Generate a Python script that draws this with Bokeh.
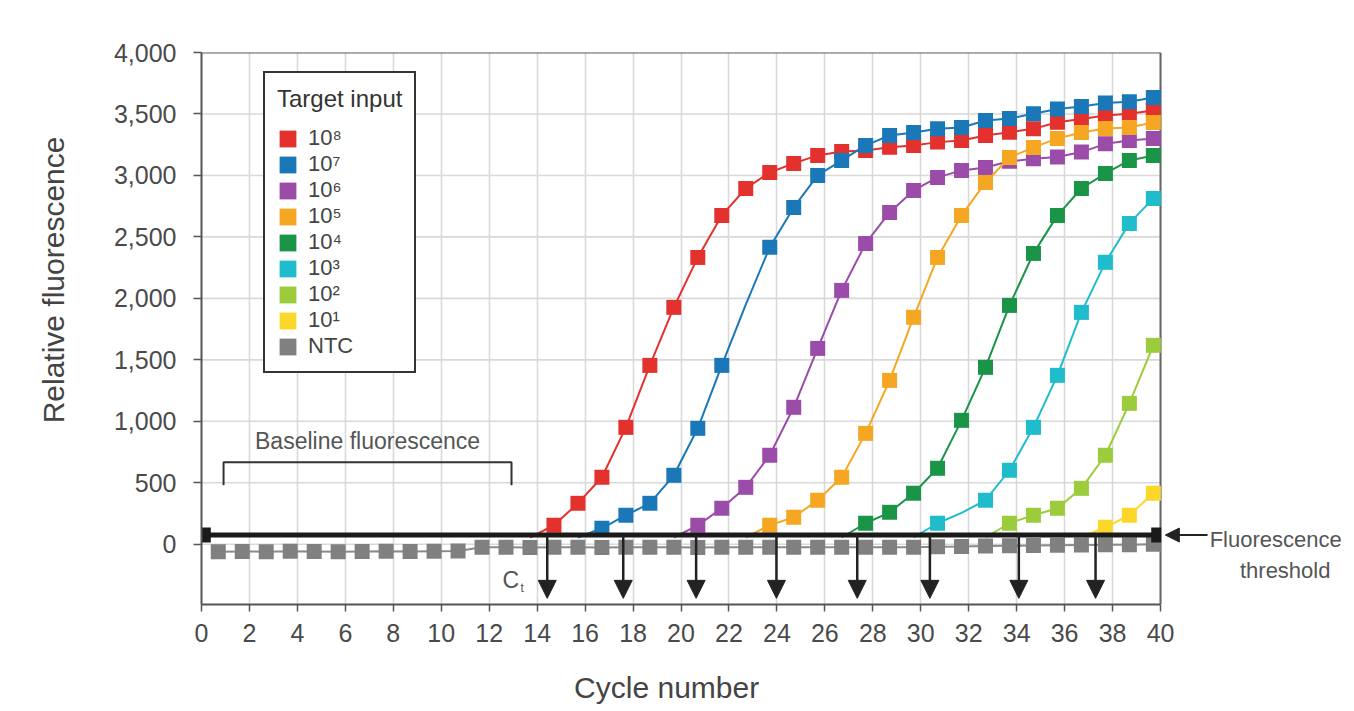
import numpy as np
from bokeh.plotting import figure
from bokeh.models import (Range1d, FixedTicker, NumeralTickFormatter, Legend, LegendItem,
                          Label, Arrow, NormalHead, ColumnDataSource, LinearAxis)
from bokeh.embed import file_html
from bokeh.resources import INLINE

FONT = "Liberation Sans"

# ---------------- data ----------------
legend_labels = ["10⁸", "10⁷", "10⁶", "10⁵", "10⁴", "10³", "10²", "10¹"]
colors = ["#e3312d", "#1b78b8", "#9a4ca8", "#f5a623", "#1a9447", "#1fbccc", "#9ccb3b", "#fcd72a"]
# cycle of the first (baseline, hidden under threshold) point of each curve
start_cycles = [14, 16, 20, 23, 27, 30, 33, 37]

red = [55, 154, 333, 545, 951, 1455, 1927, 2333, 2675, 2894, 3024, 3098, 3163, 3195, 3203,
       3230, 3244, 3271, 3285, 3325, 3352, 3379, 3433, 3460, 3488, 3501, 3528]
blue = [55, 130, 236, 333, 561, 943, 1455, 1950, 2415, 2740, 3000, 3122, 3244, 3325, 3350,
        3379, 3390, 3447, 3463, 3501, 3540, 3560, 3590, 3600, 3634]
purple = [55, 154, 293, 463, 724, 1114, 1593, 2065, 2447, 2699, 2878, 2984, 3041, 3065, 3115,
          3135, 3150, 3190, 3257, 3285, 3300]
orange = [55, 154, 220, 358, 545, 902, 1333, 1846, 2333, 2675, 2943, 3146, 3228, 3301, 3350,
          3382, 3390, 3431]
green = [55, 171, 260, 415, 618, 1008, 1439, 1943, 2366, 2675, 2894, 3016, 3122, 3163]
cyan = [55, 171, 255, 358, 602, 951, 1374, 1886, 2293, 2610, 2813]
lightgreen = [55, 171, 236, 293, 455, 724, 1146, 1618]
yellow = [55, 138, 236, 415]
series_values = [red, blue, purple, orange, green, cyan, lightgreen, yellow]
# cycles whose point carries no marker in the original figure
unmarked_cycles = {1: [23], 5: [32]}

ntc_values = [-60, -58, -60, -57, -58, -60, -58, -57, -58, -56, -55, -25, -24, -26, -25,
              -25, -26, -25, -24, -25, -26, -25, -24, -25, -25, -24, -25, -25, -24, -25,
              -20, -18, -15, -12, -10, -8, -6, -5, -3, 0]
ntc_cycles = list(range(1, 41))

threshold = 75
ct_cycles = [14.42, 17.59, 20.63, 23.98, 27.35, 30.38, 34.09, 37.29]
baseline_window = (0.92, 12.93)

x_ticks = list(range(0, 41, 2))
y_ticks = list(range(0, 4001, 500))
X_MAX, Y_MIN, Y_MAX = 40, -490, 4000

X_SHIFT = -0.3  # where each cycle's reading is drawn
X_TITLE_AT, Y_TITLE_AT = 19.4, 2150  # centres of the axis titles (as in the original)

# ---------------- figure ----------------
# the x range runs past 40 so the threshold note at the right stays inside the frame
p = figure(width=1354, height=711, x_range=Range1d(0, 48.09), y_range=Range1d(Y_MIN, Y_MAX),
           output_backend="svg", toolbar_location=None,
           min_border_left=201, min_border_right=0, min_border_top=52, min_border_bottom=107)
p.background_fill_color = "white"
p.border_fill_color = "white"
p.outline_line_color = None

for ax in (p.xaxis[0], p.yaxis[0]):
    ax.axis_line_color = "#555555"
    ax.axis_line_width = 2
    ax.major_tick_line_color = "#555555"
    ax.major_tick_line_width = 1.5
    ax.minor_tick_line_color = None
    ax.major_tick_in = 0
    ax.major_label_text_font = FONT
    ax.major_label_text_font_size = "25px"
    ax.major_label_text_color = "#4a4a4a"

p.xaxis.ticker = FixedTicker(ticks=x_ticks)
p.xaxis.bounds = (0, X_MAX)
p.xaxis.major_tick_out = 7
p.xaxis.major_label_standoff = 12

p.yaxis.ticker = FixedTicker(ticks=y_ticks)
p.yaxis.major_tick_out = 8
p.yaxis.major_label_standoff = 17
p.yaxis.formatter = NumeralTickFormatter(format="0,0")

# axis titles, carried by label-only axes so they sit where the original has them
title_style = dict(axis_line_color=None, major_tick_line_color=None,
                   minor_tick_line_color=None, major_tick_out=0, major_tick_in=0,
                   major_label_text_font=FONT, major_label_text_font_size="30px",
                   major_label_text_color="#444444")
ylab = LinearAxis(ticker=FixedTicker(ticks=[Y_TITLE_AT]),
                  major_label_overrides={Y_TITLE_AT: "Relative fluorescence"},
                  major_label_orientation="vertical", major_label_standoff=40, **title_style)
p.add_layout(ylab, "left")
xlab = LinearAxis(ticker=FixedTicker(ticks=[X_TITLE_AT]),
                  major_label_overrides={X_TITLE_AT: "Cycle number"},
                  major_label_standoff=26, **title_style)
p.add_layout(xlab, "below")

p.xgrid.ticker = FixedTicker(ticks=x_ticks)
p.xgrid.grid_line_color = "#d9d9d9"
p.xgrid.grid_line_width = 1.6
p.ygrid.visible = False
# horizontal grid lines limited to the plotted cycles
p.segment(x0=[0] * len(y_ticks), x1=[X_MAX] * len(y_ticks), y0=y_ticks, y1=y_ticks,
          line_color="#d9d9d9", line_width=1.6)
# box edges (top and right)
p.segment(x0=[0, X_MAX], x1=[X_MAX, X_MAX], y0=[Y_MAX, Y_MIN], y1=[Y_MAX, Y_MAX],
          line_color="#666666", line_width=2)

MS = 15  # marker size in px

# NTC
ntc_x = [c + X_SHIFT for c in ntc_cycles]
p.line(ntc_x, ntc_values, line_color="#8a8a8a", line_width=2)
ntc_r = p.rect(ntc_x, ntc_values, width=MS, height=MS, width_units="screen",
               height_units="screen", fill_color="#808080", line_color=None)

legend_renderers = []
for i, (vals, start, col) in enumerate(zip(series_values, start_cycles, colors)):
    cyc = list(range(start, start + len(vals)))
    xs = [c + X_SHIFT for c in cyc]
    p.line(xs, vals, line_color=col, line_width=2)
    skip = unmarked_cycles.get(i, [])
    keep = [(x, v) for x, c, v in zip(xs, cyc, vals) if v > threshold and c not in skip]
    r = p.rect([k[0] for k in keep], [k[1] for k in keep], width=MS, height=MS,
               width_units="screen", height_units="screen", fill_color=col, line_color=None)
    legend_renderers.append(r)

# threshold line
p.line([0, X_MAX], [threshold, threshold], line_color="#1a1a1a", line_width=5)
p.rect([0.18, 39.82], [threshold, threshold], width=10, height=15, width_units="screen",
       height_units="screen", fill_color="#1a1a1a", line_color=None)

# Ct arrows
ct_src = ColumnDataSource(dict(x=ct_cycles, y0=[threshold] * len(ct_cycles),
                               y1=[-440] * len(ct_cycles)))
p.add_layout(Arrow(x_start="x", y_start="y0", x_end="x", y_end="y1", source=ct_src,
                   line_color="#222222", line_width=2.5,
                   end=NormalHead(size=18, fill_color="#222222", line_color="#222222")))

# baseline bracket
b0, b1 = baseline_window
p.line([b0, b0, b1, b1], [480, 667, 667, 480], line_color="#333333", line_width=2)
p.add_layout(Label(x=(b0 + b1) / 2, y=840, text="Baseline fluorescence", text_align="center",
                   text_baseline="middle", text_font=FONT, text_font_size="23px",
                   text_color="#555555"))

# Ct label
p.add_layout(Label(x=12.55, y=-293, text="C", text_font=FONT, text_font_size="23px",
                   text_color="#555555", text_baseline="alphabetic"))
p.add_layout(Label(x=13.3, y=-358, text="t", text_font=FONT, text_font_size="12px",
                   text_color="#555555", text_baseline="alphabetic"))

# fluorescence threshold annotation
p.add_layout(Arrow(x_start=41.96, y_start=threshold, x_end=40.2, y_end=threshold,
                   line_color="#222222", line_width=2,
                   end=NormalHead(size=14, fill_color="#222222", line_color="#222222")))
p.add_layout(Label(x=42.05, y=threshold - 35, text="Fluorescence", text_font=FONT,
                   text_font_size="22px", text_color="#555555", text_baseline="middle"))
p.add_layout(Label(x=45.2, y=-211, text="threshold", text_font=FONT, text_align="center",
                   text_font_size="22px", text_color="#555555", text_baseline="middle"))

# legend
items = [LegendItem(label=lab, renderers=[r]) for lab, r in zip(legend_labels, legend_renderers)]
items.append(LegendItem(label="NTC", renderers=[ntc_r]))
legend = Legend(items=items, location=(62, 231), title="Target input",
                title_text_font=FONT, title_text_font_size="24px", title_text_font_style="normal",
                title_text_color="#333333", title_standoff=12,
                label_text_font=FONT, label_text_font_size="22px", label_text_color="#444444",
                glyph_width=21, glyph_height=21, label_height=26, label_standoff=10,
                spacing=0, padding=12, margin=0,
                border_line_color="#333333", border_line_width=2, border_line_alpha=1,
                background_fill_color="white", background_fill_alpha=1)
p.add_layout(legend)

open("out.html", "w").write(file_html(p, INLINE))
